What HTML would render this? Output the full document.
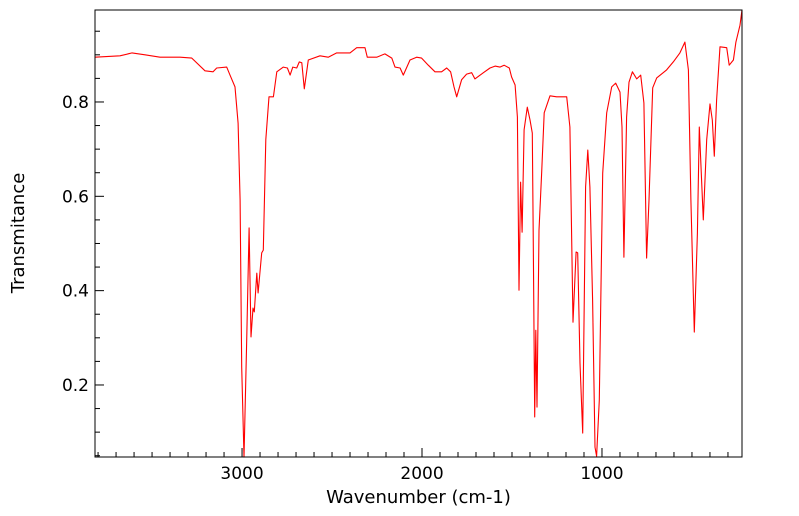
<!DOCTYPE html>
<html><head><meta charset="utf-8"><style>
body{margin:0;background:#fff;}
svg{display:block;font-family:"DejaVu Sans","Liberation Sans",sans-serif;}
</style></head><body>
<svg id="chart" width="799" height="516"></svg>
<script>
const wavenumbers=[3817,3678,3611,3539,3456,3344,3279,3206,3161,3141,3085,3067,3039,3022,3011,3002,2989,2974,2961,2950,2939,2932,2918,2911,2891,2882,2868,2850,2826,2807,2771,2748,2733,2718,2696,2682,2668,2654,2632,2567,2521,2474,2400,2363,2317,2304,2252,2206,2168,2150,2122,2104,2067,2030,2002,1965,1928,1891,1863,1841,1822,1807,1780,1752,1724,1706,1659,1622,1594,1567,1544,1515,1502,1483,1470,1461,1452,1444,1433,1415,1400,1387,1382,1374,1368,1361,1350,1335,1321,1289,1252,1196,1178,1161,1144,1135,1122,1107,1091,1079,1067,1052,1039,1030,1015,996,974,946,924,900,889,878,863,850,831,807,785,767,752,739,718,696,641,604,567,539,520,506,487,470,459,437,418,400,387,376,363,344,307,293,270,256,233,222];
const transmittance=[0.895,0.898,0.904,0.9,0.895,0.895,0.893,0.866,0.864,0.872,0.874,0.857,0.832,0.755,0.592,0.238,0.047,0.295,0.533,0.302,0.363,0.355,0.437,0.395,0.48,0.486,0.72,0.811,0.811,0.864,0.874,0.872,0.857,0.874,0.872,0.885,0.883,0.828,0.889,0.898,0.895,0.904,0.904,0.915,0.915,0.895,0.895,0.902,0.893,0.874,0.872,0.857,0.889,0.895,0.893,0.878,0.864,0.864,0.872,0.864,0.832,0.811,0.847,0.859,0.862,0.849,0.862,0.872,0.876,0.874,0.878,0.872,0.853,0.836,0.768,0.401,0.63,0.524,0.741,0.789,0.762,0.734,0.522,0.132,0.316,0.153,0.528,0.652,0.777,0.813,0.811,0.811,0.747,0.333,0.482,0.48,0.246,0.098,0.62,0.698,0.62,0.38,0.068,0.049,0.168,0.649,0.777,0.832,0.84,0.821,0.747,0.471,0.768,0.842,0.864,0.849,0.857,0.798,0.469,0.592,0.83,0.851,0.868,0.885,0.904,0.927,0.868,0.592,0.312,0.522,0.747,0.55,0.72,0.796,0.762,0.685,0.804,0.917,0.915,0.878,0.889,0.927,0.963,0.995];
const xTickLabels=[3000,2000,1000];
const yTickLabels=[0.2,0.4,0.6,0.8];

const NS="http://www.w3.org/2000/svg";
const svg=document.getElementById('chart');
const L=95,R=742,T=10,B=457;
const xMax=3817,xMin=222,yMin=0.0473,yMax=0.995;
const sx=w=>L+(xMax-w)/(xMax-xMin)*(R-L);
const sy=v=>B-(v-yMin)/(yMax-yMin)*(B-T);
function mk(tag,attrs){const e=document.createElementNS(NS,tag);for(const k in attrs)e.setAttribute(k,attrs[k]);svg.appendChild(e);return e;}

// ticks
for(let w=3800;w>=300;w-=100){
  const major=w%1000===0;
  const t=mk('line',{x1:sx(w),x2:sx(w),y1:B,y2:B-(major?9:5),stroke:'#000','stroke-width':1});
  
  
}
for(let k=1;k<=19;k++){
  const v=k*0.05;if(v<yMin||v>yMax)continue;
  const major=k%4===0;
  const t=mk('line',{x1:L,x2:L+(major?9:5),y1:sy(v),y2:sy(v),stroke:'#000','stroke-width':1});
  
  
}
xTickLabels.forEach(w=>{
  const t=mk('text',{x:sx(w),y:B+22,'text-anchor':'middle','font-size':17,fill:'#000'});
  t.textContent=w;
  
  
});
yTickLabels.forEach(v=>{
  const t=mk('text',{x:L-6,y:sy(v)+6,'text-anchor':'end','font-size':17,fill:'#000'});
  t.textContent=v.toFixed(1);
  
  
});
// series
const d=wavenumbers.map((w,i)=>(i?'L':'M')+sx(w).toFixed(1)+' '+sy(transmittance[i]).toFixed(1)).join(' ');
const line=mk('path',{d:d,fill:'none',stroke:'#ff0000','stroke-width':1.1,'stroke-linejoin':'round'});


// frame
const f=mk('rect',{x:L,y:T,width:R-L,height:B-T,fill:'none',stroke:'#000','stroke-width':1});


const xt=mk('text',{x:(L+R)/2,y:503,'text-anchor':'middle','font-size':18,fill:'#000'});
xt.textContent='Wavenumber (cm-1)';


const yt=mk('text',{x:0,y:0,'text-anchor':'middle','font-size':18,fill:'#000',transform:'translate(24,233) rotate(-90)'});
yt.textContent='Transmitance';


</script>
</body></html>
